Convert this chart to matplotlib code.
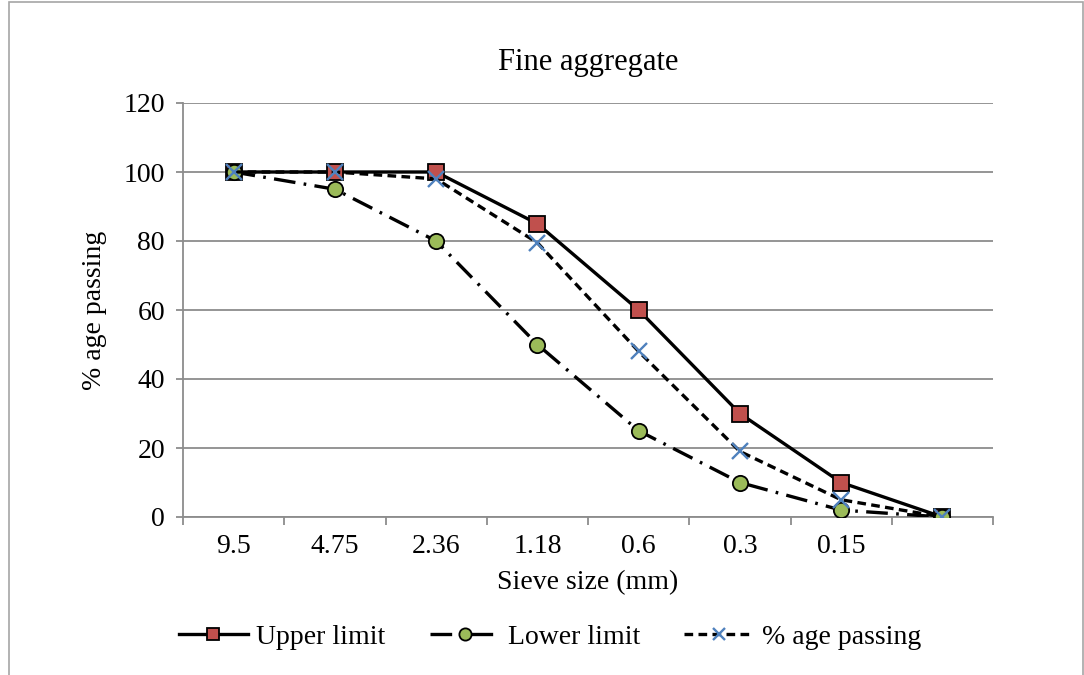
import matplotlib
matplotlib.use("Agg")
import matplotlib.pyplot as plt
from matplotlib.patches import Rectangle

categories = ["9.5", "4.75", "2.36", "1.18", "0.6", "0.3", "0.15", ""]
upper_limit = [100, 100, 100, 85, 60, 30, 10, 0]
lower_limit = [100, 95, 80, 50, 25, 10, 2, 0]
pct_passing = [100, 100, 98, 79.5, 48, 19, 5, 0]
y_ticks = [0, 20, 40, 60, 80, 100, 120]

plt.rcParams['font.family'] = ['Liberation Serif', 'DejaVu Serif']

W, H = 1084, 675
fig = plt.figure(figsize=(W / 100, H / 100), dpi=100)
fig.patch.set_facecolor('white')

# outer chart frame
fig.patches.append(Rectangle((9 / W, -0.05), (1083 - 9) / W, 1 - 2 / H + 0.05,
                             transform=fig.transFigure, fill=False,
                             edgecolor='#A6A6A6', linewidth=1.2))

ax = fig.add_axes([183 / W, 1 - 517 / H, (993 - 183) / W, (517 - 103) / H])
x = list(range(len(categories)))

grid_c = '#8C8C8C'
ax.set_ylim(0, 120)
ax.set_xlim(-0.5, len(categories) - 0.5)
ax.set_yticks(y_ticks)
ax.yaxis.grid(True, color=grid_c, linewidth=1.3)
ax.set_axisbelow(True)
for s in ['top', 'right']:
    ax.spines[s].set_visible(False)
for s in ['left', 'bottom']:
    ax.spines[s].set_color(grid_c)
    ax.spines[s].set_linewidth(1.3)

ax.set_xticks(x)
ax.set_xticklabels(categories)
ax.set_xticks([i - 0.5 for i in range(len(categories) + 1)], minor=True)
ax.tick_params(axis='x', which='major', length=0, pad=12, labelsize=20)
ax.tick_params(axis='x', which='minor', length=6, width=1.3, color=grid_c)
ax.tick_params(axis='y', length=5, width=1.3, color=grid_c, pad=8, labelsize=20)

lw = 2.4
l1, = ax.plot(x, upper_limit, color='black', linewidth=lw, linestyle='-',
              marker='s', markersize=11, markerfacecolor='#C0504D',
              markeredgecolor='black', markeredgewidth=1.3, label='Upper limit', zorder=3)
l2, = ax.plot(x, lower_limit, color='black', linewidth=lw,
              linestyle=(0, (6.5, 2.5, 0.8, 2.5)),
              marker='o', markersize=11, markerfacecolor='#9BBB59',
              markeredgecolor='black', markeredgewidth=1.3, label='Lower limit', zorder=3)
l3, = ax.plot(x, pct_passing, color='black', linewidth=lw,
              linestyle=(0, (2.6, 1.6)),
              marker='x', markersize=11, markeredgecolor='#4F81BD',
              markeredgewidth=1.7, label='% age passing', zorder=4)

ax.set_title('Fine aggregate', fontsize=22, pad=24)
ax.set_xlabel('Sieve size (mm)', fontsize=20, labelpad=8)
ax.set_ylabel('% age passing', fontsize=20, labelpad=12)

fig.legend(handles=[l1, l2, l3], loc='center', bbox_to_anchor=(550 / W, 1 - 637 / H),
           ncol=3, frameon=False, fontsize=20, handlelength=2.5, markerscale=0.8,
           handletextpad=0.3, columnspacing=1.6)

fig.savefig('out.png', dpi=100, facecolor='white')
